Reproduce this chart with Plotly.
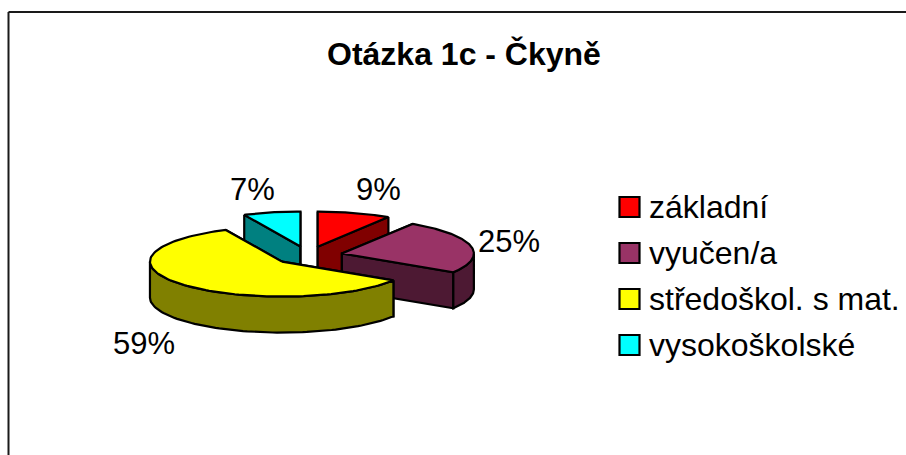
import numpy as np
import plotly.graph_objects as go

# Data
TITLE = "Otázka 1c - Čkyně"
CATEGORIES = ["základní", "vyučen/a", "středoškol. s mat.", "vysokoškolské"]
PERCENTS = [9, 25, 59, 7]
TOP_COLORS = ["#FF0000", "#993366", "#FFFF00", "#00FFFF"]
SIDE_COLORS = ["#800000", "#4D1933", "#808000", "#008080"]

# Geometry of the tilted pie, in window pixels
CENTER_X, CENTER_Y = 308, 255.5
RADIUS_X, RADIUS_Y = 132, 35
DEPTH = 36
EXPLODE = 0.263
LINE_W = 2.2

# Label anchors (centre of text), same order as the categories
LABEL_X = [378, 509, 144, 252]
LABEL_Y = [189, 241, 343, 189]
LEGEND_SWATCH_X = 629.5
LEGEND_TEXT_X = 646.5
LEGEND_TOP = 207
LEGEND_STEP = 46


def ellipse_point(deg, cx, cy):
    rad = np.radians(deg)
    return cx + RADIUS_X * np.sin(rad), cy - RADIUS_Y * np.cos(rad)


def add_polygon(fig, xs, ys, color):
    fig.add_trace(
        go.Scatter(
            x=list(xs) + [xs[0]],
            y=list(ys) + [ys[0]],
            mode="lines",
            fill="toself",
            fillcolor=color,
            line=dict(color="black", width=LINE_W),
            hoverinfo="skip",
            showlegend=False,
        )
    )


def add_slice(fig, start, end, top_color, side_color):
    mid = np.radians((start + end) / 2)
    cx = CENTER_X + EXPLODE * RADIUS_X * np.sin(mid)
    cy = CENTER_Y - EXPLODE * RADIUS_Y * np.cos(mid)

    # cut faces first, the wall and the top cover what should stay hidden
    for deg in (start, end):
        ex, ey = ellipse_point(deg, cx, cy)
        add_polygon(
            fig,
            [ex, cx, cx, ex],
            [ey, cy, cy + DEPTH, ey + DEPTH],
            side_color,
        )

    # the outer wall only shows on the front half of the ellipse
    wall_start, wall_end = max(start, 90), min(end, 270)
    if wall_end > wall_start:
        angles = np.linspace(wall_start, wall_end, 80)
        ax, ay = ellipse_point(angles, cx, cy)
        add_polygon(
            fig,
            np.concatenate([ax, ax[::-1]]),
            np.concatenate([ay, ay[::-1] + DEPTH]),
            side_color,
        )

    angles = np.linspace(start, end, 120)
    ax, ay = ellipse_point(angles, cx, cy)
    add_polygon(fig, [cx, *ax], [cy, *ay], top_color)


edges = np.concatenate([[0], np.cumsum(PERCENTS)]) / sum(PERCENTS) * 360
slices = [
    (edges[i], edges[i + 1], TOP_COLORS[i], SIDE_COLORS[i])
    for i in range(len(PERCENTS))
]

fig = go.Figure()

# back slices first, yellow overlaps the purple wall
for i in [3, 0, 1, 2]:
    add_slice(fig, *slices[i])

# legend swatches
fig.add_trace(
    go.Scatter(
        x=[LEGEND_SWATCH_X] * len(CATEGORIES),
        y=[LEGEND_TOP + LEGEND_STEP * i for i in range(len(CATEGORIES))],
        mode="markers",
        marker=dict(
            symbol="square",
            size=20,
            color=TOP_COLORS,
            line=dict(color="black", width=2.2),
        ),
        hovertext=CATEGORIES,
        hoverinfo="text",
        showlegend=False,
    )
)

for i, name in enumerate(CATEGORIES):
    fig.add_annotation(
        x=LEGEND_TEXT_X,
        y=LEGEND_TOP + LEGEND_STEP * i,
        text=name,
        showarrow=False,
        xanchor="left",
        yanchor="middle",
        font=dict(size=32),
    )

for i, pct in enumerate(PERCENTS):
    fig.add_annotation(
        x=LABEL_X[i],
        y=LABEL_Y[i],
        text=f"{pct}%",
        showarrow=False,
        font=dict(size=31),
    )

fig.add_annotation(
    x=464,
    y=54,
    text=f"<b>{TITLE}</b>",
    showarrow=False,
    font=dict(size=32),
)

fig.update_layout(
    width=906,
    height=455,
    margin=dict(l=0, r=0, t=0, b=0),
    paper_bgcolor="white",
    plot_bgcolor="white",
    font=dict(family="Liberation Sans", color="black"),
    xaxis=dict(range=[0, 906], visible=False, fixedrange=True),
    yaxis=dict(range=[455, 0], visible=False, fixedrange=True),
    shapes=[
        dict(type="line", x0=8.5, x1=8.5, y0=12, y1=455, line=dict(color="#1a1a1a", width=2)),
        dict(type="line", x0=8.5, x1=906, y0=12, y1=12, line=dict(color="#1a1a1a", width=2)),
    ],
)

fig.write_html(
    "out.html",
    post_script="document.body.style.margin='0';",
    config={"displayModeBar": False},
)
